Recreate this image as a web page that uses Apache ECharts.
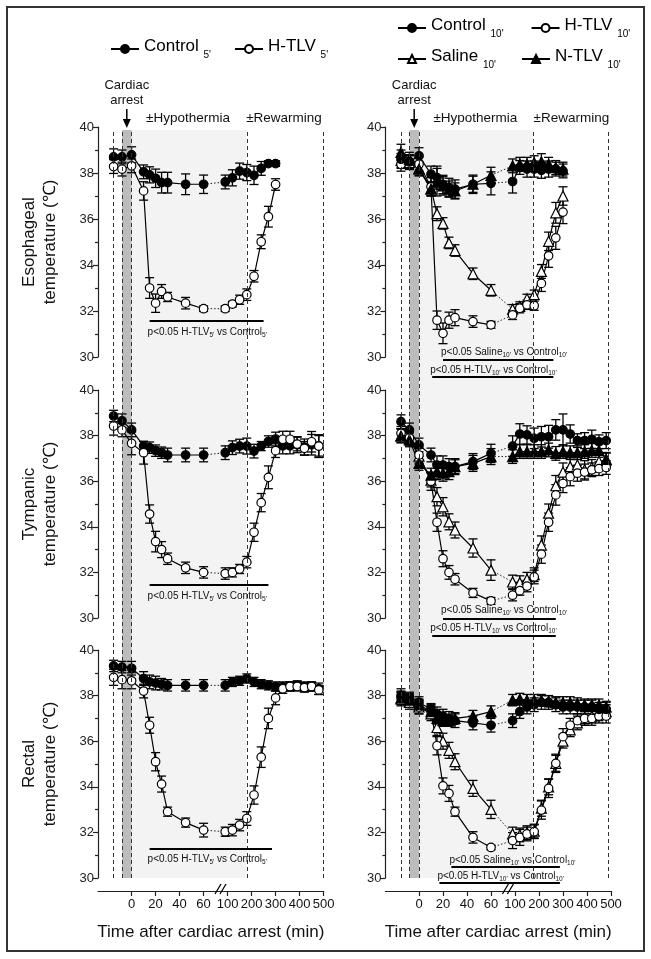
<!DOCTYPE html>
<html><head><meta charset="utf-8">
<script src="https://cdn.jsdelivr.net/npm/echarts@6/dist/echarts.min.js"></script>
<style>html,body{margin:0;padding:0;background:#fff}#c{width:651px;height:959px}</style>
</head><body><div id="c"></div>
<script>
const FONT = '"Liberation Sans", Arial, Helvetica, sans-serif';

// ---- time points (min after cardiac arrest) ----
const timesShort = [-15,-8,0,10,15,20,25,30,45,60,90,120,150,180,210,240,270,300];
const timesLong  = [-15,-8,0,10,15,20,25,30,45,60,90,120,150,180,210,240,270,300,330,360,390,420,450,480];
const xTickTimes  = [0,20,40,60,100,200,300,400,500];
const xTickLabels = ['0','20','40','60','100','200','300','400','500'];

// ---- Esophageal, 5' groups ----
const ctrlE5    = [38.70,38.70,38.79,38.05,37.92,37.77,37.58,37.58,37.51,37.51,37.61,37.79,38.08,38.02,37.90,38.20,38.41,38.41];
const ctrlE5Err = [0.35,0.30,0.35,0.30,0.35,0.40,0.45,0.45,0.45,0.40,0.30,0.35,0.35,0.35,0.40,0.30,0.12,0.12];
const htlvE5    = [38.28,38.17,38.31,37.22,33.00,32.34,32.85,32.61,32.34,32.10,32.10,32.30,32.49,32.71,33.51,35.01,36.10,37.50];
const htlvE5Err = [0.30,0.30,0.30,0.40,0.45,0.40,0.30,0.20,0.25,0.12,0.12,0.12,0.20,0.25,0.25,0.30,0.45,0.25];
// ---- Tympanic, 5' groups ----
const ctrlT5    = [38.86,38.65,38.25,37.54,37.47,37.34,37.25,37.15,37.15,37.15,37.25,37.47,37.54,37.54,37.32,37.54,37.74,37.85,37.55,37.55,37.60,37.50,37.60,37.55];
const ctrlT5Err = [0.25,0.30,0.30,0.20,0.25,0.25,0.25,0.30,0.30,0.30,0.30,0.30,0.30,0.35,0.30,0.20,0.25,0.30,0.35,0.35,0.35,0.35,0.45,0.45];
const htlvT5    = [38.42,38.25,37.66,37.25,34.56,33.35,33.00,32.60,32.20,32.00,31.95,32.00,32.15,32.45,33.76,35.06,36.17,37.34,37.84,37.84,37.63,37.44,37.73,37.54];
const htlvT5Err = [0.40,0.30,0.50,0.50,0.40,0.45,0.35,0.25,0.25,0.25,0.25,0.20,0.20,0.25,0.40,0.40,0.50,0.30,0.35,0.35,0.30,0.30,0.45,0.50];
// ---- Rectal, 5' groups ----
const ctrlR5    = [39.30,39.25,39.20,38.75,38.60,38.55,38.50,38.45,38.45,38.45,38.45,38.60,38.65,38.75,38.60,38.50,38.45,38.40,38.40,38.40,38.45,38.40,38.40,38.30];
const ctrlR5Err = [0.25,0.25,0.30,0.30,0.30,0.30,0.25,0.25,0.25,0.25,0.25,0.20,0.20,0.20,0.20,0.20,0.20,0.20,0.20,0.20,0.20,0.20,0.20,0.25];
const htlvR5    = [38.80,38.70,38.65,38.20,36.70,35.10,34.12,32.91,32.43,32.10,32.03,32.10,32.32,32.61,33.64,35.30,37.00,37.90,38.30,38.40,38.40,38.35,38.40,38.25];
const htlvR5Err = [0.35,0.40,0.35,0.30,0.35,0.40,0.35,0.20,0.20,0.30,0.20,0.25,0.25,0.30,0.40,0.45,0.45,0.30,0.20,0.20,0.20,0.20,0.20,0.20];

// ---- Esophageal, 10' groups ----
const ctrlE10    = [38.60,38.49,38.75,37.95,37.80,37.50,37.37,37.30,37.51,37.55,37.63,38.24,38.17,38.17,38.12,38.17,38.17,38.09];
const ctrlE10Err = [0.40,0.30,0.35,0.35,0.50,0.40,0.40,0.40,0.40,0.50,0.50,0.30,0.35,0.35,0.35,0.35,0.30,0.30];
const htlvE10    = [38.38,38.49,38.38,37.40,31.60,31.03,31.60,31.71,31.54,31.40,31.83,32.12,32.27,32.23,33.20,34.40,35.18,36.30];
const htlvE10Err = [0.30,0.30,0.30,0.40,0.40,0.45,0.35,0.35,0.25,0.15,0.20,0.20,0.20,0.20,0.35,0.50,0.50,0.50];
const salE10     = [38.55,38.45,38.20,37.32,36.23,35.81,34.96,34.63,33.62,32.90,32.08,32.20,32.53,32.71,33.72,35.03,36.27,37.00];
const salE10Err  = [0.30,0.30,0.30,0.30,0.30,0.25,0.25,0.25,0.25,0.25,0.20,0.20,0.20,0.20,0.30,0.40,0.45,0.40];
const ntlvE10    = [38.90,38.60,38.17,37.30,37.60,37.44,37.30,37.22,37.51,37.90,38.31,38.38,38.38,38.45,38.49,38.38,38.24,38.17];
const ntlvE10Err = [0.35,0.30,0.30,0.30,0.60,0.40,0.35,0.35,0.35,0.35,0.30,0.30,0.30,0.30,0.35,0.30,0.30,0.30];
// ---- Tympanic, 10' groups ----
const ctrlT10    = [38.61,38.25,37.59,37.15,36.71,36.71,36.64,36.64,36.86,37.22,37.54,38.07,38.03,37.88,37.95,37.95,38.25,38.25,38.07,37.78,37.78,37.84,37.73,37.78];
const ctrlT10Err = [0.30,0.30,0.30,0.30,0.40,0.40,0.35,0.35,0.35,0.40,0.45,0.45,0.40,0.45,0.45,0.50,0.45,0.70,0.40,0.30,0.35,0.40,0.30,0.35];
const htlvT10    = [38.10,37.90,37.15,36.00,34.20,32.60,32.00,31.70,31.10,30.75,31.00,31.20,31.40,31.80,32.80,34.20,35.40,35.90,36.20,36.35,36.40,36.50,36.55,36.60];
const htlvT10Err = [0.30,0.30,0.35,0.40,0.40,0.35,0.30,0.25,0.20,0.15,0.25,0.20,0.25,0.30,0.40,0.40,0.45,0.40,0.40,0.35,0.35,0.30,0.30,0.30];
const salT10     = [38.00,37.85,37.10,36.05,35.32,34.88,34.22,33.86,33.07,32.10,31.58,31.55,31.70,31.90,33.20,34.60,35.80,36.40,36.64,36.71,36.50,36.60,36.86,36.93];
const salT10Err  = [0.30,0.30,0.35,0.30,0.40,0.40,0.35,0.35,0.40,0.45,0.30,0.30,0.30,0.30,0.40,0.40,0.45,0.40,0.40,0.40,0.40,0.35,0.35,0.30];
const ntlvT10    = [37.98,37.81,36.78,36.27,36.42,36.35,36.42,36.64,36.78,37.08,37.08,37.30,37.30,37.30,37.30,37.37,37.22,37.30,37.25,37.25,37.30,37.35,37.35,36.96];
const ntlvT10Err = [0.30,0.30,0.30,0.30,0.35,0.35,0.35,0.30,0.35,0.35,0.30,0.30,0.30,0.30,0.30,0.30,0.30,0.30,0.30,0.30,0.30,0.30,0.30,0.30];
// ---- Rectal, 10' groups ----
const ctrlR10    = [38.00,37.90,37.70,37.40,37.20,37.10,37.00,36.90,36.80,36.70,36.90,37.30,37.50,37.60,37.70,37.70,37.60,37.50,37.50,37.50,37.50,37.50,37.40,37.40];
const ctrlR10Err = [0.30,0.25,0.25,0.25,0.30,0.30,0.30,0.30,0.30,0.30,0.30,0.30,0.30,0.30,0.30,0.30,0.30,0.30,0.30,0.30,0.30,0.30,0.30,0.30];
const htlvR10    = [37.90,37.80,37.50,37.30,35.80,34.04,33.71,32.91,31.78,31.34,31.64,31.78,31.93,32.03,32.98,33.93,35.03,36.20,36.70,36.90,37.00,37.00,37.10,37.10];
const htlvR10Err = [0.30,0.30,0.30,0.30,0.40,0.35,0.35,0.20,0.25,0.10,0.35,0.35,0.30,0.30,0.40,0.40,0.40,0.35,0.30,0.30,0.30,0.30,0.30,0.30];
const salR10     = [37.85,37.70,37.50,37.20,36.60,36.00,35.60,35.10,33.93,33.01,31.93,31.89,31.99,32.06,33.06,34.00,35.03,36.00,36.50,36.80,37.00,37.10,37.20,37.30];
const salR10Err  = [0.30,0.30,0.30,0.30,0.35,0.35,0.35,0.35,0.35,0.40,0.30,0.30,0.30,0.30,0.35,0.35,0.35,0.30,0.30,0.30,0.30,0.30,0.30,0.30];
const ntlvR10    = [37.90,37.80,37.60,37.30,37.00,36.90,36.90,37.00,37.10,37.30,37.80,37.85,37.80,37.80,37.80,37.75,37.70,37.70,37.70,37.65,37.60,37.60,37.60,37.50];
const ntlvR10Err = [0.25,0.25,0.25,0.25,0.25,0.25,0.25,0.25,0.25,0.25,0.25,0.25,0.25,0.25,0.25,0.25,0.25,0.25,0.25,0.25,0.25,0.25,0.25,0.25];

// ---- broken time axis: linear to 60 min, compressed after 100 min ----
function ux(t) { return t <= 70 ? t : 80 + (t - 100) / 5; }
const X_MIN = -28, X_MAX = 160;

const G = (name, sym, fill) => ({name, sym, fill});
const CTRL5 = G("Control 5'", 'circle', '#000'), HTLV5 = G("H-TLV 5'", 'circle', '#fff');
const CTRL10 = G("Control 10'", 'circle', '#000'), HTLV10 = G("H-TLV 10'", 'circle', '#fff');
const SAL10 = G("Saline 10'", 'triangle', '#fff'), NTLV10 = G("N-TLV 10'", 'triangle', '#000');

const panels = [
  {grid:0, times:timesShort, sets:[[CTRL5,ctrlE5,ctrlE5Err],[HTLV5,htlvE5,htlvE5Err]]},
  {grid:1, times:timesLong,  sets:[[CTRL5,ctrlT5,ctrlT5Err],[HTLV5,htlvT5,htlvT5Err]]},
  {grid:2, times:timesLong,  sets:[[CTRL5,ctrlR5,ctrlR5Err],[HTLV5,htlvR5,htlvR5Err]]},
  {grid:3, times:timesShort, sets:[[SAL10,salE10,salE10Err],[HTLV10,htlvE10,htlvE10Err],[CTRL10,ctrlE10,ctrlE10Err],[NTLV10,ntlvE10,ntlvE10Err]]},
  {grid:4, times:timesLong,  sets:[[SAL10,salT10,salT10Err],[HTLV10,htlvT10,htlvT10Err],[CTRL10,ctrlT10,ctrlT10Err],[NTLV10,ntlvT10,ntlvT10Err]]},
  {grid:5, times:timesLong,  sets:[[SAL10,salR10,salR10Err],[HTLV10,htlvR10,htlvR10Err],[CTRL10,ctrlR10,ctrlR10Err],[NTLV10,ntlvR10,ntlvR10Err]]}
];

const colLeft = [98, 385.4];
const colW = (X_MAX - X_MIN) * 1.2;
const rows = [{top:127, height:230},{top:390, height:228},{top:650, height:228}];
const grids = [];
for (let c = 0; c < 2; c++) for (let r = 0; r < 3; r++) grids.push({left:colLeft[c], top:rows[r].top, width:colW, height:rows[r].height});
grids.push({left:colLeft[0], top:130, width:colW, height:748});
grids.push({left:colLeft[1], top:130, width:colW, height:748});

const xAxes = grids.map((g, i) => {
  const bottom = (i === 2 || i === 5);
  const ax = {gridIndex:i, type:'value', min:X_MIN, max:X_MAX, show:bottom, splitLine:{show:false}};
  if (bottom) Object.assign(ax, {
    offset:13,
    axisLine:{show:true, onZero:false, lineStyle:{color:'#222', width:1.2}},
    axisTick:{show:true, customValues:xTickTimes.map(ux), length:5, lineStyle:{color:'#222', width:1.2}},
    axisLabel:{customValues:xTickTimes.map(ux), interval:0, fontSize:13, color:'#111', fontFamily:FONT, margin:7,
      formatter: v => { const i2 = xTickTimes.findIndex(t => Math.abs(ux(t) - v) < 1e-6); return i2 >= 0 ? xTickLabels[i2] : ''; }},
    name:'Time after cardiac arrest (min)', nameLocation:'middle', nameGap:33,
    nameTextStyle:{fontSize:17, color:'#111', fontFamily:FONT}
  });
  return ax;
});
const yAxes = grids.map((g, i) => i >= 6
  ? {gridIndex:i, type:'value', min:0, max:1, show:false}
  : {gridIndex:i, type:'value', min:30, max:40, interval:2,
     axisLine:{show:true, onZero:false, lineStyle:{color:'#222', width:1.2}},
     axisTick:{show:true, length:5, lineStyle:{color:'#222', width:1.2}},
     minorTick:{show:true, splitNumber:2, length:3, lineStyle:{color:'#222', width:1.2}},
     axisLabel:{fontSize:13, color:'#222', fontFamily:FONT, margin:4},
     splitLine:{show:false}});

const series = [];
// background shading & dashed phase markers
[[6, 180, 500], [7, 175, 490]].forEach(([gi, hypoEnd, rewEnd]) => {
  series.push({type:'line', name:'_bg' + gi, xAxisIndex:gi, yAxisIndex:gi, z:0, silent:true,
    data:[[X_MIN, 0.5]], symbol:'none', lineStyle:{opacity:0},
    markArea:{silent:true, data:[
      [{xAxis:0, itemStyle:{color:'#f3f3f3'}}, {xAxis:ux(hypoEnd)}],
      [{xAxis:-8, itemStyle:{color:'#bcbcbc'}}, {xAxis:0}]]},
    markLine:{silent:true, symbol:['none','none'], label:{show:false},
      lineStyle:{type:[4,3], color:'#333', width:1},
      data:[{xAxis:-15},{xAxis:-8},{xAxis:0},{xAxis:ux(hypoEnd)},{xAxis:ux(rewEnd)}]}
  });
});

panels.forEach(p => {
  p.sets.forEach(([g, vals, errs]) => {
    const pts = [];
    const bridge = [];
    p.times.forEach((t, i) => {
      pts.push([ux(t), vals[i]]);
      if (t === 60) { pts.push([70, '-']); bridge.push([ux(t), vals[i]]); }
      if (t === 90) bridge.push([ux(t), vals[i]]);
    });
    series.push({type:'custom', name:'_err', xAxisIndex:p.grid, yAxisIndex:p.grid, z:2, silent:true,
      data:p.times.map((t, i) => [ux(t), vals[i] - errs[i], vals[i] + errs[i]]),
      encode:{x:0, y:[1,2]},
      renderItem:(params, api) => {
        const lo = api.coord([api.value(0), api.value(1)]);
        const hi = api.coord([api.value(0), api.value(2)]);
        const w = 4.5, st = {stroke:'#000', lineWidth:1.3};
        return {type:'group', children:[
          {type:'line', shape:{x1:lo[0], y1:lo[1], x2:hi[0], y2:hi[1]}, style:st},
          {type:'line', shape:{x1:lo[0]-w, y1:lo[1], x2:lo[0]+w, y2:lo[1]}, style:st},
          {type:'line', shape:{x1:hi[0]-w, y1:hi[1], x2:hi[0]+w, y2:hi[1]}, style:st}]};
      }});
    series.push({type:'line', name:'_bridge', xAxisIndex:p.grid, yAxisIndex:p.grid, z:3, silent:true,
      data:bridge, symbol:'none', lineStyle:{color:'#222', width:1, type:[1.5,2]}});
    series.push({type:'line', name:g.name, xAxisIndex:p.grid, yAxisIndex:p.grid, z:4,
      data:pts, showAllSymbol:true, symbol:g.sym, symbolSize:g.sym === 'triangle' ? 10 : 8.5,
      connectNulls:false,
      itemStyle:{color:g.fill, borderColor:'#000', borderWidth:1.2},
      lineStyle:{color:'#000', width:1.2}});
  });
});

const legendCommon = {orient:'horizontal', itemWidth:28, itemHeight:10, selectedMode:false,
  textStyle:{fontFamily:FONT, color:'#000', fontSize:17,
    rich:{n:{fontSize:17, fontFamily:FONT, color:'#000', lineHeight:22, verticalAlign:'top'},
          s:{fontSize:10, fontFamily:FONT, color:'#000', lineHeight:10, verticalAlign:'bottom'}}},
  formatter: name => { const k = name.lastIndexOf(' '); return '{n|' + name.slice(0, k) + '} {s|' + name.slice(k + 1) + '}'; }};

const option = {
  animation:false,
  backgroundColor:'#fff',
  textStyle:{fontFamily:FONT},
  grid:grids, xAxis:xAxes, yAxis:yAxes, series,
  legend:[
    Object.assign({}, legendCommon, {data:["Control 5'","H-TLV 5'"], left:105, top:33, itemGap:23}),
    Object.assign({}, legendCommon, {data:["Control 10'","H-TLV 10'"], left:392, top:12, itemGap:27}),
    Object.assign({}, legendCommon, {data:["Saline 10'","N-TLV 10'"], left:392, top:43, itemGap:25})
  ]
};

const chart = echarts.init(document.getElementById('c'), null, {renderer:'canvas'});
chart.setOption(option);

// ---- annotations positioned through the axes ----
const gx = (gi, t) => chart.convertToPixel({xAxisIndex:gi}, ux(t));
const graphics = [];
graphics.push({type:'rect', shape:{x:7, y:7, width:637, height:944}, style:{fill:'none', stroke:'#333', lineWidth:2}, z:100});

const yTitles = [['Esophageal', 242], ['Tympanic', 504], ['Rectal', 764]];
yTitles.forEach(([w, y]) => graphics.push({type:'text', x:40, y:y, rotation:Math.PI/2, z:100,
  style:{text:w + '\ntemperature (℃)', font:'17px ' + FONT, fill:'#111', lineHeight:21,
    align:'center', verticalAlign:'middle', textAlign:'center', textVerticalAlign:'middle'}}));

[0, 3].forEach(gi => {
  const ax = gx(gi, -4);
  graphics.push({type:'text', x:ax, y:93, z:100, style:{text:'Cardiac\narrest', font:'13px ' + FONT, fill:'#111', lineHeight:15,
    align:'center', verticalAlign:'middle', textAlign:'center', textVerticalAlign:'middle'}});
  graphics.push({type:'line', z:100, shape:{x1:ax, y1:109, x2:ax, y2:122}, style:{stroke:'#000', lineWidth:1.5}});
  graphics.push({type:'polygon', z:100, shape:{points:[[ax-4, 119], [ax+4, 119], [ax, 128]]}, style:{fill:'#000'}});
  graphics.push({type:'text', x:gx(gi, 47), y:118, z:100, style:{text:'±Hypothermia', font:'13.5px ' + FONT, fill:'#111',
    align:'center', verticalAlign:'middle', textAlign:'center', textVerticalAlign:'middle'}});
  graphics.push({type:'text', x:gx(gi, 335), y:118, z:100, style:{text:'±Rewarming', font:'13.5px ' + FONT, fill:'#111',
    align:'center', verticalAlign:'middle', textAlign:'center', textVerticalAlign:'middle'}});
});
// axis break marks
[2, 5].forEach(gi => {
  const bx = chart.convertToPixel({xAxisIndex:gi}, 72), by = 891;
  [0, 5].forEach(d => graphics.push({type:'line', z:100,
    shape:{x1:bx + d - 3, y1:by + 3, x2:bx + d + 3, y2:by - 7}, style:{stroke:'#000', lineWidth:1.3}}));
});
// significance bars
const sig = [
  {g:0, t0:15, t1:250, barY:321, textY:333, grp:['H-TLV',"5'"]},
  {g:1, t0:15, t1:270, barY:585, textY:597, grp:['H-TLV',"5'"]},
  {g:2, t0:15, t1:285, barY:849, textY:860, grp:['H-TLV',"5'"]},
  {g:3, t0:20, t1:260, barY:360, textY:353, grp:['Saline',"10'"]},
  {g:3, t0:11, t1:260, barY:377, textY:371, grp:['H-TLV',"10'"]},
  {g:4, t0:20, t1:270, barY:619, textY:611, grp:['Saline',"10'"]},
  {g:4, t0:11, t1:270, barY:636, textY:629, grp:['H-TLV',"10'"]},
  {g:5, t0:27, t1:287, barY:867, textY:861, grp:['Saline',"10'"]},
  {g:5, t0:17, t1:287, barY:883, textY:877, grp:['H-TLV',"10'"]}
];
sig.forEach(s => {
  const x0 = gx(s.g, s.t0), x1 = gx(s.g, s.t1);
  graphics.push({type:'line', z:100, shape:{x1:x0, y1:s.barY, x2:x1, y2:s.barY}, style:{stroke:'#000', lineWidth:2}});
  graphics.push({type:'text', x:x0 - 2, y:s.textY, z:100, style:{
    text:'{t|p<0.05 ' + s.grp[0] + '}{s|' + s.grp[1] + '}{t| vs Control}{s|' + s.grp[1] + '}',
    align:'left', verticalAlign:'middle', textAlign:'left', textVerticalAlign:'middle',
    rich:{t:{fontSize:10, fontFamily:FONT, fill:'#111', color:'#111', lineHeight:12, verticalAlign:'top'},
          s:{fontSize:6.5, fontFamily:FONT, fill:'#111', color:'#111', lineHeight:7, verticalAlign:'bottom'}}}});
});
chart.setOption({graphic:graphics});
</script></body></html>
